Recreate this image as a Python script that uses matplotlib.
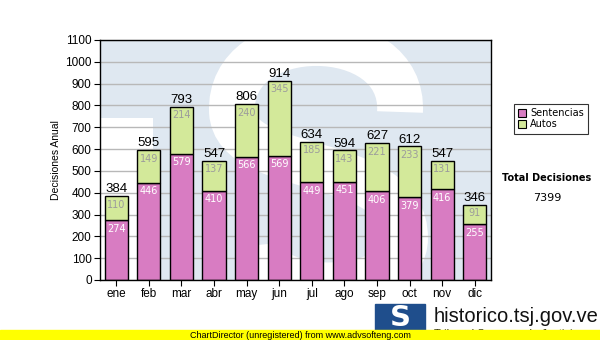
import matplotlib

matplotlib.use("Agg")
import matplotlib.pyplot as plt
from matplotlib.patches import Rectangle, PathPatch
from matplotlib.path import Path

months = ["ene", "feb", "mar", "abr", "may", "jun",
          "jul", "ago", "sep", "oct", "nov", "dic"]
sentencias = [274, 446, 579, 410, 566, 569, 449, 451, 406, 379, 416, 255]
autos = [110, 149, 214, 137, 240, 345, 185, 143, 221, 233, 131, 91]
totals = [384, 595, 793, 547, 806, 914, 634, 594, 627, 612, 547, 346]
grand_total = 7399

PINK = "#d87cc2"
GREEN = "#d3e99a"
WATERMARK = "#dfe8f1"
ARIAL = "Liberation Sans"

W, H = 600, 340
fig = plt.figure(figsize=(W / 100, H / 100), dpi=100)
fig.patch.set_facecolor("white")

# plot area in pixel coordinates
x0, x1, y0, y1 = 100, 491, 40, 280
ax = fig.add_axes([x0 / W, 1 - y1 / H, (x1 - x0) / W, (y1 - y0) / H])
ax.set_facecolor(WATERMARK)


def px(x, y):
    # pixel position inside the plot area -> axes fraction
    return ((x - x0) / (x1 - x0), (y1 - y) / (y1 - y0))


# faint logo watermark: white notch and a white "S" stroke on the blue field
ax.add_patch(Rectangle(px(100, 280), 53 / 391, 162 / 240,
                       transform=ax.transAxes, color="white", lw=0, zorder=0))
s_verts = [px(400, 112),
           px(405, 20), px(228, 20), px(232, 112),
           px(236, 178), px(405, 152), px(405, 238),
           px(405, 300), px(262, 300), px(258, 245)]
s_codes = [Path.MOVETO] + [Path.CURVE4] * 9
ax.add_patch(PathPatch(Path(s_verts, s_codes), transform=ax.transAxes,
                       fill=False, edgecolor="white", lw=33,
                       capstyle="butt", zorder=0))

pos = list(range(len(months)))
width = 0.71
ax.bar(pos, sentencias, width, color=PINK, edgecolor="black", lw=1, zorder=2)
ax.bar(pos, autos, width, bottom=sentencias, color=GREEN, edgecolor="black",
       lw=1, zorder=2)

for i in pos:
    ax.text(i, sentencias[i] - 16, str(sentencias[i]), ha="center", va="top",
            fontsize=7, color="white", zorder=3)
    ax.text(i, totals[i] - 16, str(autos[i]), ha="center", va="top",
            fontsize=7, color="#9c9c9c", zorder=3)
    ax.text(i, totals[i] + 4, str(totals[i]), ha="center", va="bottom",
            fontsize=9.5, family=ARIAL, color="black", zorder=3)

ax.set_xlim(-0.5, len(months) - 0.5)
ax.set_ylim(0, 1100)
ax.set_yticks(range(0, 1101, 100))
ax.set_xticks(pos)
ax.set_xticklabels(months, fontsize=8.5, family=ARIAL)
for lbl in ax.get_yticklabels():
    lbl.set_family(ARIAL)
ax.tick_params(axis="y", labelsize=8.5, length=4, pad=2)
ax.tick_params(axis="x", length=4, pad=2)
ax.yaxis.grid(True, color="#b8b8b8", lw=1, zorder=1)
ax.set_axisbelow(True)
for spine in ax.spines.values():
    spine.set_color("black")
    spine.set_linewidth(1)
ax.set_ylabel("Decisiones Anual", fontsize=7.5, family=ARIAL)
ax.yaxis.set_label_coords(-0.1, 0.5)

# legend box
leg = fig.legend(
    handles=[Rectangle((0, 0), 1, 1, fc=PINK, ec="black", lw=0.8),
             Rectangle((0, 0), 1, 1, fc=GREEN, ec="black", lw=0.8)],
    labels=["Sentencias", "Autos"],
    loc="upper left", bbox_to_anchor=(509 / W, 1 - 99 / H),
    fontsize=7, frameon=True, fancybox=False, edgecolor="black",
    handlelength=0.8, handleheight=0.8, handletextpad=0.4,
    borderpad=0.45, labelspacing=0.1,
)
leg.get_frame().set_linewidth(0.8)

fig.text(547 / W, 1 - 178 / H, "Total Decisiones", fontsize=7,
         fontweight="bold", ha="center", va="center")
fig.text(547 / W, 1 - 198 / H, str(grand_total), fontsize=8,
         ha="center", va="center")

# footer logo and site name
fig.patches.append(Rectangle((375 / W, 0), 50 / W, 36 / H,
                             transform=fig.transFigure, color="#1f4e8c",
                             zorder=1))
fig.text(400 / W, 1 - 318 / H, "S", fontsize=21, fontweight="bold",
         color="white", ha="center", va="center", zorder=2)
fig.text(434 / W, 1 - 317 / H, "historico.tsj.gov.ve", fontsize=14.5,
         family=ARIAL, ha="left", va="center", color="#111111")
fig.text(434 / W, 1 - 334 / H, "Tribunal Supremo de Justicia", fontsize=8,
         family=ARIAL, ha="left", va="center", color="#111111")

# yellow banner across the bottom
fig.patches.append(Rectangle((0, 0), 1, 10 / H, transform=fig.transFigure,
                             color="#ffff00", zorder=5))
fig.text(0.5, 5 / H, "ChartDirector (unregistered) from www.advsofteng.com",
         fontsize=6.5, family=ARIAL, ha="center", va="center", zorder=6)

fig.savefig("out.png", dpi=100)
